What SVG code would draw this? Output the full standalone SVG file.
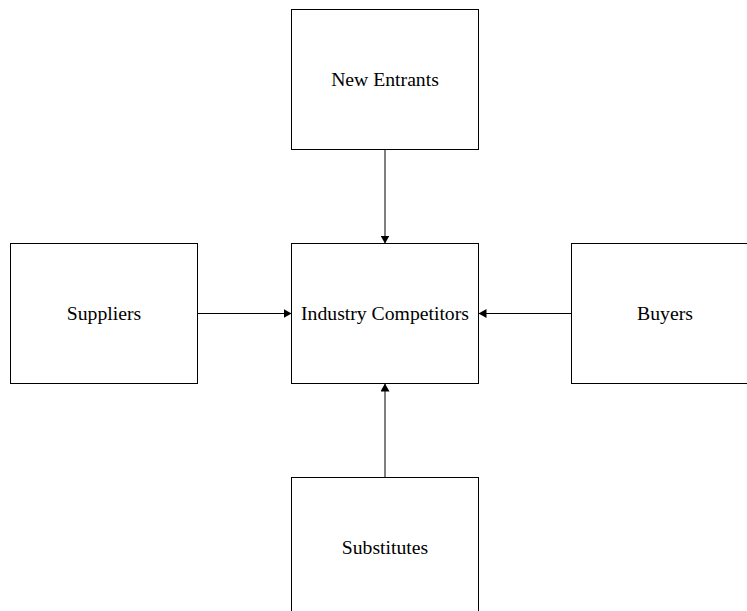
<svg xmlns="http://www.w3.org/2000/svg" width="747" height="611" viewBox="0 0 747 611">
  <style>
    .box { fill: #ffffff; stroke: #000000; stroke-width: 1; }
    .label { font-family: "Liberation Serif", "Times New Roman", serif; font-size: 19.7px; fill: #000000; text-anchor: middle; }
    .edge { fill: none; stroke: #000000; stroke-width: 1; marker-end: url(#arrow); }
  </style>
  <defs>
    <marker id="arrow" viewBox="0 0 8 9" refX="8" refY="4.5" markerWidth="8" markerHeight="9" markerUnits="userSpaceOnUse" orient="auto">
      <path d="M0,0 L8,4.5 L0,9 Z" fill="#000000"/>
    </marker>
  </defs>
  <rect width="747" height="611" fill="#ffffff"/>

  <g id="connectors">
    <line class="edge" x1="385" y1="149.5" x2="385" y2="243.5"/>
    <line class="edge" x1="197.5" y1="313.5" x2="291.5" y2="313.5"/>
    <line class="edge" x1="571.5" y1="313.5" x2="478.5" y2="313.5"/>
    <line class="edge" x1="385" y1="477.5" x2="385" y2="383.5"/>
  </g>

  <g id="new-entrants">
    <rect class="box" x="291.5" y="9.5" width="187" height="140"/>
    <text class="label" x="385" y="85.5">New Entrants</text>
  </g>

  <g id="industry-competitors">
    <rect class="box" x="291.5" y="243.5" width="187" height="140"/>
    <text class="label" x="385" y="319.5">Industry Competitors</text>
  </g>

  <g id="suppliers">
    <rect class="box" x="10.5" y="243.5" width="187" height="140"/>
    <text class="label" x="104" y="319.5">Suppliers</text>
  </g>

  <g id="buyers">
    <rect class="box" x="571.5" y="243.5" width="187" height="140"/>
    <text class="label" x="665" y="319.5">Buyers</text>
  </g>

  <g id="substitutes">
    <rect class="box" x="291.5" y="477.5" width="187" height="140"/>
    <text class="label" x="385" y="553.5">Substitutes</text>
  </g>
</svg>
